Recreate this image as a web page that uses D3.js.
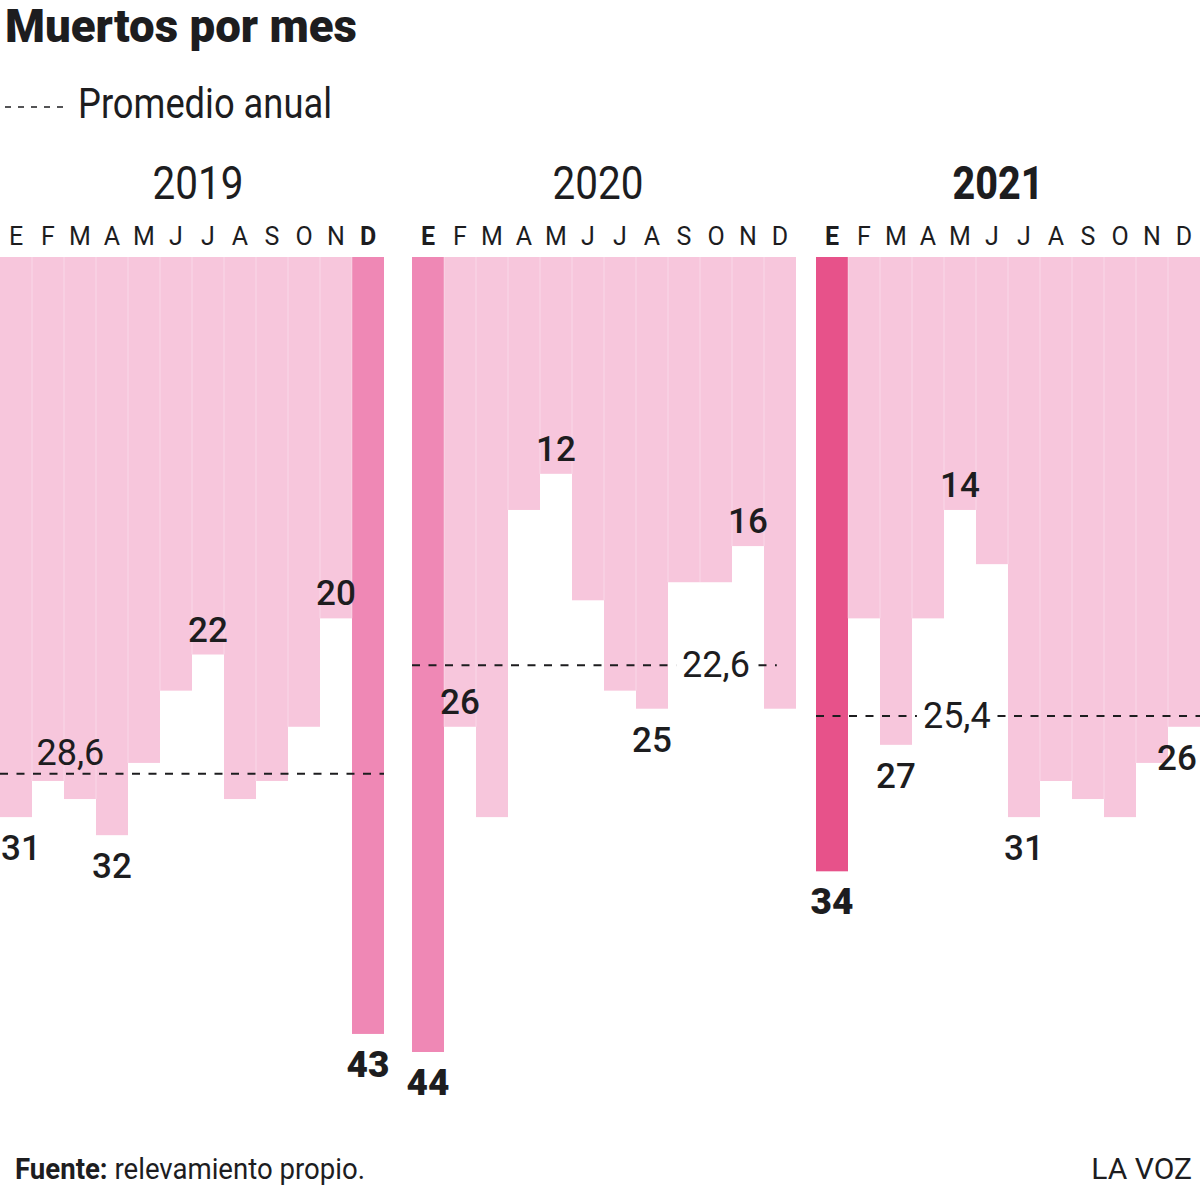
<!DOCTYPE html>
<html>
<head>
<meta charset="utf-8">
<script src="https://cdn.jsdelivr.net/npm/d3@7"></script>
<style>
  html, body { margin: 0; padding: 0; background: #fff; }
  svg { display: block; font-family: Roboto, "Noto Sans", sans-serif; }
</style>
</head>
<body>
<svg id="chart" width="1200" height="1194"></svg>
<script>
  // Datos
  var meses = ['E', 'F', 'M', 'A', 'M', 'J', 'J', 'A', 'S', 'O', 'N', 'D'];
  var anios = ['2019', '2020', '2021'];
  var muertos2019 = [31, 29, 30, 32, 28, 24, 22, 30, 29, 26, 20, 43];
  var muertos2020 = [44, 26, 31, 14, 12, 19, 24, 25, 18, 18, 16, 25];
  var muertos2021 = [34, 20, 27, 20, 14, 17, 31, 29, 30, 31, 28, 26];
  var promedios = [28.6, 22.6, 25.4];
  var promedioTexto = ['28,6', '22,6', '25,4'];
  var destacado = [11, 0, 0];          // mes resaltado de cada año
  // etiquetas de valores: [índice de mes, posición]
  var etiquetas2019 = [[0, 'below'], [3, 'below'], [6, 'above'], [10, 'above'], [11, 'below']];
  var etiquetas2020 = [[0, 'below'], [1, 'above'], [4, 'above'], [7, 'below'], [10, 'above']];
  var etiquetas2021 = [[0, 'below'], [2, 'below'], [4, 'above'], [6, 'below'], [11, 'below']];

  var series = [muertos2019, muertos2020, muertos2021];
  var etiquetas = [etiquetas2019, etiquetas2020, etiquetas2021];

  var colorBase = '#f7c6dc';
  var colorDestacado = ['#ef88b5', '#ef88b5', '#e7528a'];
  var ink = '#1d1d1f';

  var svg = d3.select('#chart');

  // panel layout
  var panelX = [0, 412, 816];
  var panelW = 384;
  var barTop = 257;
  var yearShift = [6, -6, -10];   // year titles sit a bit off the panel centre

  var y = d3.scaleLinear().domain([0, 44]).range([barTop, 1052]);

  // title and legend
  svg.append('text').attr('x', 5).attr('y', 42)
    .attr('font-size', 46).attr('font-weight', 900).attr('fill', ink)
    .attr('textLength', 352).attr('lengthAdjust', 'spacingAndGlyphs')
    .text('Muertos por mes');

  svg.append('line').attr('x1', 5).attr('x2', 69).attr('y1', 107).attr('y2', 107)
    .attr('stroke', ink).attr('stroke-width', 1.6).attr('stroke-dasharray', '6,7');
  svg.append('text').attr('x', 78).attr('y', 118)
    .attr('font-size', 42).attr('fill', ink)
    .attr('textLength', 254).attr('lengthAdjust', 'spacingAndGlyphs')
    .text('Promedio anual');

  anios.forEach(function (anio, p) {
    var data = series[p];
    var x = d3.scaleBand().domain(d3.range(12)).range([panelX[p], panelX[p] + panelW]).paddingInner(0);
    var xi = d3.scaleLinear().domain([0, 12]).range([panelX[p], panelX[p] + panelW]);
    var g = svg.append('g');

    // year
    var cx = panelX[p] + panelW / 2 + yearShift[p];
    g.append('text')
      .attr('x', cx - 45.5).attr('y', 199)
      .attr('font-size', 46)
      .attr('textLength', 91).attr('lengthAdjust', 'spacingAndGlyphs')
      .attr('font-weight', p === 2 ? 800 : 400).attr('fill', ink)
      .text(anio);

    // months
    g.selectAll('.mes').data(meses).enter().append('text')
      .attr('class', 'mes')
      .attr('x', function (d, i) { return x(i) + x.bandwidth() / 2; })
      .attr('y', 245)
      .attr('text-anchor', 'middle').attr('font-size', 25)
      .attr('font-weight', function (d, i) { return i === destacado[p] ? 700 : 400; })
      .attr('fill', ink)
      .text(function (d) { return d; });

    // bars hanging from the top
    g.selectAll('.bar').data(data).enter().append('rect')
      .attr('class', 'bar')
      .attr('x', function (d, i) { return x(i); })
      .attr('y', barTop)
      .attr('width', x.bandwidth())
      .attr('height', function (d) { return y(d) - barTop; })
      .attr('fill', function (d, i) { return i === destacado[p] ? colorDestacado[p] : colorBase; });

    // faint separators between light bars
    g.selectAll('.sep').data(d3.range(1, 12)).enter().append('line')
      .attr('class', 'sep')
      .attr('x1', function (i) { return x(i); }).attr('x2', function (i) { return x(i); })
      .attr('y1', barTop)
      .attr('y2', function (i) { return Math.min(y(data[i]), y(data[i - 1])); })
      .attr('stroke', '#fff').attr('stroke-opacity', 0.35).attr('stroke-width', 1);

    // average line
    var lineEnd = p === 1 ? 11.4 : 12;
    g.append('line')
      .attr('x1', xi(0)).attr('x2', xi(lineEnd))
      .attr('y1', y(promedios[p])).attr('y2', y(promedios[p]))
      .attr('stroke', ink).attr('stroke-width', 2).attr('stroke-dasharray', '8,8.5');

    // average label
    var labelPos = [2.2, 9.5, 4.4][p];
    var avgLabel = g.append('g');
    var ly = p === 0 ? y(promedios[p]) - 9 : y(promedios[p]) + 12;
    var t = avgLabel.append('text')
      .attr('x', xi(labelPos)).attr('y', ly)
      .attr('text-anchor', 'middle').attr('font-size', 36).attr('fill', ink)
      .text(promedioTexto[p]);
    if (p > 0) {
      var bb = t.node().getBBox();
      avgLabel.insert('rect', 'text')
        .attr('x', bb.x - 6).attr('y', y(promedios[p]) - 3)
        .attr('width', bb.width + 12).attr('height', 6)
        .attr('fill', '#fff');
    }

    // value labels
    g.selectAll('.val').data(etiquetas[p]).enter().append('text')
      .attr('class', 'val')
      .attr('x', function (d) {
        var c = x(d[0]) + x.bandwidth() / 2;
        return Math.max(21, Math.min(1177, c));
      })
      .attr('y', function (d) {
        var b = y(data[d[0]]);
        return d[1] === 'below' ? b + 43 : b - 13;
      })
      .attr('text-anchor', 'middle')
      .attr('font-size', function (d) { return d[0] === destacado[p] ? 37 : 35; })
      .attr('font-weight', function (d) { return d[0] === destacado[p] ? 900 : 500; })
      .attr('fill', ink)
      .text(function (d) { return data[d[0]]; });
  });

  // footer
  var foot = svg.append('text').attr('x', 15).attr('y', 1179)
    .attr('font-size', 29).attr('fill', ink)
    .attr('textLength', 350).attr('lengthAdjust', 'spacingAndGlyphs');
  foot.append('tspan').attr('font-weight', 700).text('Fuente:');
  foot.append('tspan').text(' relevamiento propio.');

  svg.append('text').attr('x', 1192).attr('y', 1179)
    .attr('text-anchor', 'end').attr('font-size', 30).attr('fill', ink)
    .text('LA VOZ');
</script>
</body>
</html>
